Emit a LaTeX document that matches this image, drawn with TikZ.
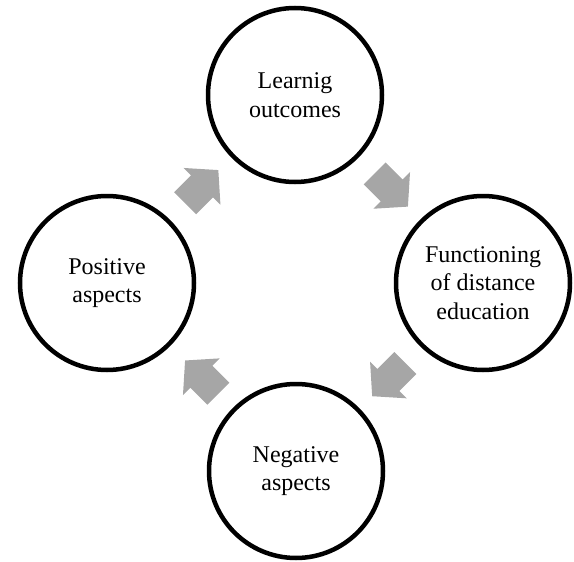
\documentclass[tikz,border=0pt]{standalone}
\usepackage{fontspec}
\setmainfont{Liberation Serif}
\definecolor{arrowgray}{HTML}{A6A6A6}
\begin{document}
\begin{tikzpicture}[x=1pt,y=-1pt,
  cyclenode/.style={circle, draw=black, line width=4.5pt, minimum size=174pt, inner sep=0pt,
    align=center, font=\fontsize{24}{28.5}\selectfont},
  blockarrow/.pic={\fill[arrowgray] (-23.5,-15.5) -- (0.5,-15.5) -- (0.5,-26) -- (23.5,0) -- (0.5,26) -- (0.5,15.5) -- (-23.5,15.5) -- cycle;}
]
\useasboundingbox (0,0) rectangle (574,562);
\node[cyclenode] (learn) at (295,95) {Learnig\\outcomes};
\node[cyclenode] (func) at (483,283) {Functioning\\of distance\\education};
\node[cyclenode] (neg) at (296,471) {Negative\\aspects};
\node[cyclenode] (pos) at (107,283) {Positive\\aspects};
\pic[rotate=45] at (201.7,186.7) {blockarrow};
\pic[rotate=-45] at (391.3,190) {blockarrow};
\pic[rotate=-135] at (388.8,379.6) {blockarrow};
\pic[rotate=135] at (201.7,377.1) {blockarrow};
\end{tikzpicture}
\end{document}
